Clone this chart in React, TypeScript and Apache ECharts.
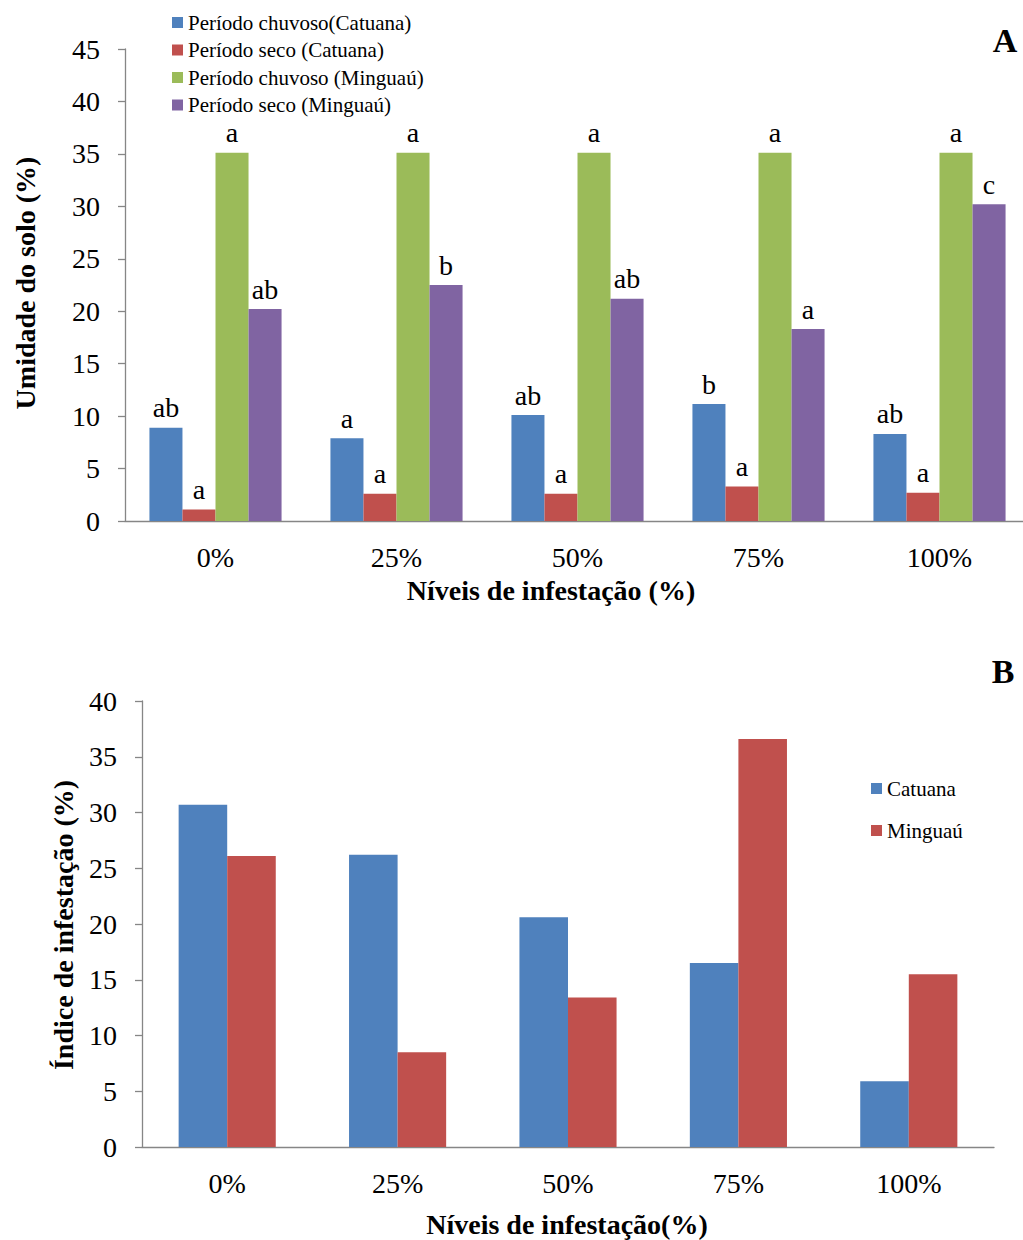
import React, { useEffect, useRef } from "react";
import * as echarts from "echarts";

const categories = ["0%", "25%", "50%", "75%", "100%"];

// Chart A — Umidade do solo (%)
const seriesNamesA = [
  "Período chuvoso(Catuana)",
  "Período seco (Catuana)",
  "Período chuvoso (Minguaú)",
  "Período seco (Minguaú)",
];
const chuvosoCatuana = [8.9, 7.9, 10.1, 11.15, 8.3];
const secoCatuana = [1.1, 2.6, 2.6, 3.3, 2.7];
const chuvosoMinguau = [35.1, 35.1, 35.1, 35.1, 35.1];
const secoMinguau = [20.2, 22.5, 21.2, 18.3, 30.2];
const lettersChuvosoCatuana = ["ab", "a", "ab", "b", "ab"];
const lettersSecoCatuana = ["a", "a", "a", "a", "a"];
const lettersChuvosoMinguau = ["a", "a", "a", "a", "a"];
const lettersSecoMinguau = ["ab", "b", "ab", "a", "c"];

// Chart B — Índice de infestação (%)
const seriesNamesB = ["Catuana", "Minguaú"];
const infestCatuana = [30.7, 26.2, 20.6, 16.5, 5.9];
const infestMinguau = [26.1, 8.5, 13.4, 36.6, 15.5];

const colorsA = ["#4F81BD", "#C0504D", "#9BBB59", "#8064A2"];
const colorsB = ["#4F81BD", "#C0504D"];

const FONT = "'Liberation Serif', 'Times New Roman', serif";
const AXIS_COLOR = "#868686";

export default function App() {
  const ref = useRef<HTMLDivElement>(null);
  useEffect(() => {
    if (!ref.current) return;
    const chart = echarts.init(ref.current, undefined, { renderer: "svg" });
    const valuesA = [chuvosoCatuana, secoCatuana, chuvosoMinguau, secoMinguau];
    const lettersA = [
      lettersChuvosoCatuana,
      lettersSecoCatuana,
      lettersChuvosoMinguau,
      lettersSecoMinguau,
    ];
    const valuesB = [infestCatuana, infestMinguau];

    const axisCommonX = (gridIndex: number) => ({
      type: "category" as const,
      gridIndex,
      data: categories,
      axisLine: { lineStyle: { color: AXIS_COLOR, width: 1.3 } },
      axisTick: { length: 7, lineStyle: { color: AXIS_COLOR, width: 1.3 } },
      axisLabel: { color: "#000", fontFamily: FONT, fontSize: 28, margin: 22 },
    });
    const axisCommonY = (gridIndex: number, max: number) => ({
      type: "value" as const,
      gridIndex,
      min: 0,
      max,
      interval: 5,
      splitLine: { show: false },
      axisLine: { show: true, lineStyle: { color: AXIS_COLOR, width: 1.3 } },
      axisTick: { show: true, length: 7, lineStyle: { color: AXIS_COLOR, width: 1.3 } },
      axisLabel: { color: "#000", fontFamily: FONT, fontSize: 28, margin: 25 },
    });

    const titleText = (x: number, y: number, text: string, size: number, rotate = false) => ({
      type: "text" as const,
      x,
      y,
      rotation: rotate ? Math.PI / 2 : 0,
      style: {
        text,
        fill: "#000",
        font: `bold ${size}px ${FONT}`,
        align: "center",
        verticalAlign: "middle",
      },
    });

    chart.setOption({
      animation: false,
      grid: [
        { left: 125, top: 49, width: 905, height: 472 },
        { left: 142, top: 701, width: 852, height: 446 },
      ],
      legend: [
        {
          data: seriesNamesA,
          orient: "vertical",
          left: 167,
          top: 7,
          itemWidth: 11,
          itemHeight: 11,
          itemGap: 6.5,
          icon: "rect",
          textStyle: { color: "#000", fontFamily: FONT, fontSize: 21, lineHeight: 21 },
        },
        {
          data: seriesNamesB,
          orient: "vertical",
          left: 866,
          top: 773,
          itemWidth: 11,
          itemHeight: 11,
          itemGap: 21,
          icon: "rect",
          textStyle: { color: "#000", fontFamily: FONT, fontSize: 21, lineHeight: 21 },
        },
      ],
      xAxis: [axisCommonX(0), axisCommonX(1)],
      yAxis: [axisCommonY(0, 45), axisCommonY(1, 40)],
      series: [
        ...seriesNamesA.map((name, i) => ({
          name,
          type: "bar",
          xAxisIndex: 0,
          yAxisIndex: 0,
          data: valuesA[i],
          barGap: "0%",
          barCategoryGap: "27%",
          itemStyle: { color: colorsA[i] },
          label: {
            show: true,
            position: "top",
            distance: 6,
            color: "#000",
            fontFamily: FONT,
            fontSize: 28,
            formatter: (p: any) => lettersA[i][p.dataIndex],
          },
        })),
        ...seriesNamesB.map((name, i) => ({
          name,
          type: "bar",
          xAxisIndex: 1,
          yAxisIndex: 1,
          data: valuesB[i],
          barGap: "0%",
          barCategoryGap: "43%",
          itemStyle: { color: colorsB[i] },
        })),
      ],
      graphic: [
        titleText(25, 283, "Umidade do solo (%)", 28, true),
        titleText(551, 590, "Níveis de infestação (%)", 28),
        titleText(63, 925, "Índice de infestação (%)", 28, true),
        titleText(567, 1224, "Níveis de infestação(%)", 28),
        titleText(1005, 40, "A", 34),
        titleText(1003, 671, "B", 34),
      ],
    });
    return () => chart.dispose();
  }, []);
  return (
    <div
      style={{
        position: "absolute",
        left: 0,
        top: 0,
        width: 1023,
        height: 1240,
        overflow: "hidden",
        background: "#fff",
      }}
    >
      <div ref={ref} style={{ width: 1040, height: 1240 }} />
    </div>
  );
}
